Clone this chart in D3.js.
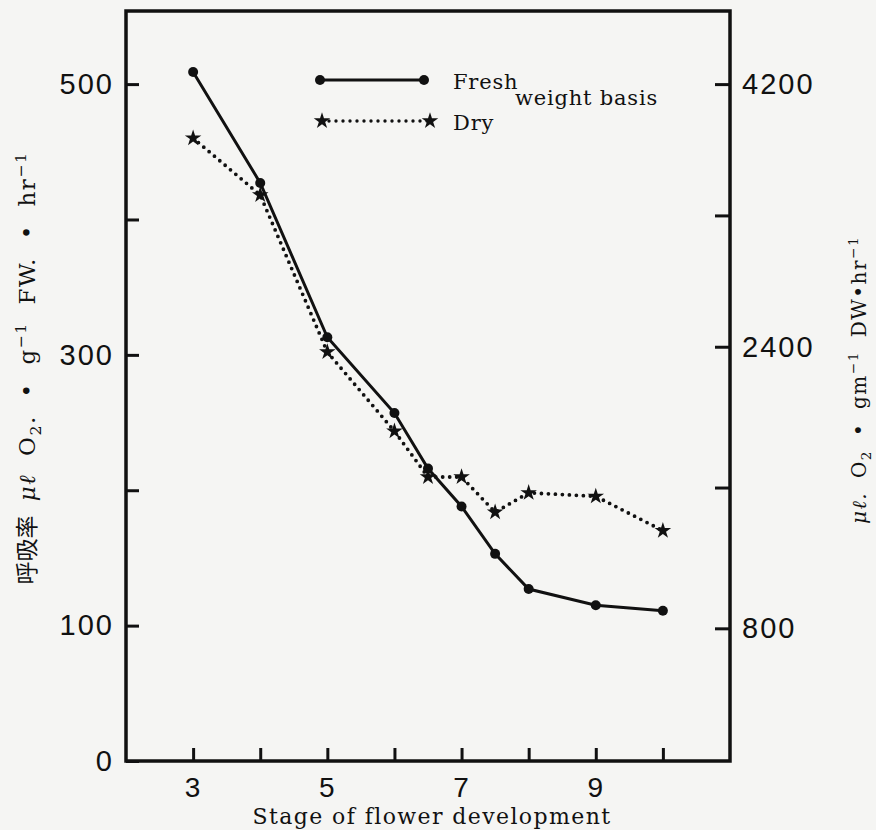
<!DOCTYPE html>
<html>
<head>
<meta charset="utf-8">
<script src="https://cdn.jsdelivr.net/npm/d3@7"></script>
<style>
  body { margin: 0; background: #f5f5f3; }
  svg { display: block; }
</style>
</head>
<body>
<div id="chart"></div>
<script>
// values
var stages    = [3, 4, 5, 6, 6.5, 7, 7.5, 8, 9, 10];
var freshRate = [509, 427, 313, 257, 216, 188, 153, 127, 115, 111];               // left axis, FW basis
var dryRate   = [3830, 3440, 2370, 1920, 1660, 1660, 1460, 1570, 1550, 1355];     // right axis, DW basis

var xTicks = [3, 4, 5, 6, 7, 8, 9, 10];
var xTickLabels = [3, 5, 7, 9];
var leftTicks = [0, 100, 200, 300, 400, 500];
var leftTickLabels = [0, 100, 300, 500];
var rightTicks = [800, 1600, 2400, 3300, 4200];
var rightTickLabels = [800, 2400, 4200];

var W = 876, H = 830;
var frame = {left: 126, right: 730, top: 11, bottom: 761};

var tickFont = "'Liberation Sans', Arial, sans-serif";
var serif = "'DejaVu Serif', serif";

var svg = d3.select("#chart")
  .append("svg")
    .attr("width", W)
    .attr("height", H);

svg.append("rect")
  .attr("width", W).attr("height", H)
  .attr("fill", "#f5f5f3");

// ---------------------------//
//       SCALES               //
// ---------------------------//
var x = d3.scaleLinear()
  .domain([2, 11])
  .range([frame.left, frame.right]);

var y = d3.scaleLinear()
  .domain([0, 554])
  .range([frame.bottom, frame.top]);

// right axis of the original is not evenly spaced, so map its labelled ticks piecewise
var yR = d3.scaleLinear()
  .domain([800, 2400, 4200])
  .range([y(98), y(306), y(500)]);

// ---------------------------//
//       AXES                 //
// ---------------------------//
function styleAxis(g, size) {
  g.select(".domain").remove();
  g.selectAll(".tick line").attr("stroke", "#111").attr("stroke-width", 3);
  g.selectAll(".tick text")
    .attr("fill", "#111")
    .attr("font-family", tickFont)
    .attr("font-size", size)
    .attr("letter-spacing", "2px");
}

svg.append("g")
  .attr("transform", "translate(" + frame.left + ",0)")
  .call(d3.axisLeft(y).tickValues(leftTicks).tickSize(-13).tickPadding(12)
    .tickFormat(function(d){ return leftTickLabels.indexOf(d) >= 0 ? d : ""; }))
  .call(styleAxis, 29);

svg.append("g")
  .attr("transform", "translate(" + frame.right + ",0)")
  .call(d3.axisRight(yR).tickValues(rightTicks).tickSize(-15).tickPadding(12)
    .tickFormat(function(d){ return rightTickLabels.indexOf(d) >= 0 ? d : ""; }))
  .call(styleAxis, 29);

svg.append("g")
  .attr("transform", "translate(0," + frame.bottom + ")")
  .call(d3.axisBottom(x).tickValues(xTicks).tickSize(-13).tickPadding(16)
    .tickFormat(function(d){ return xTickLabels.indexOf(d) >= 0 ? d : ""; }))
  .call(styleAxis, 28);

// frame
svg.append("rect")
  .attr("x", frame.left).attr("y", frame.top)
  .attr("width", frame.right - frame.left)
  .attr("height", frame.bottom - frame.top)
  .attr("fill", "none")
  .attr("stroke", "#111")
  .attr("stroke-width", 3.5);

// ---------------------------//
//       LINES                //
// ---------------------------//
var fresh = stages.map(function(s, i){ return {x: s, y: freshRate[i]}; });
var dry = stages.map(function(s, i){ return {x: s, y: dryRate[i]}; });

var freshLine = d3.line()
  .x(function(d){ return x(d.x); })
  .y(function(d){ return y(d.y); });

var dryLine = d3.line()
  .x(function(d){ return x(d.x); })
  .y(function(d){ return yR(d.y); });

svg.append("path")
  .datum(dry)
  .attr("d", dryLine)
  .attr("fill", "none")
  .attr("stroke", "#111")
  .attr("stroke-width", 3.8)
  .attr("stroke-linecap", "round")
  .attr("stroke-dasharray", "0,7");

svg.append("path")
  .datum(fresh)
  .attr("d", freshLine)
  .attr("fill", "none")
  .attr("stroke", "#111")
  .attr("stroke-width", 3);

var star = d3.symbol().type(d3.symbolStar).size(85);

svg.selectAll(".star")
  .data(dry)
  .enter()
  .append("path")
    .attr("class", "star")
    .attr("d", star)
    .attr("transform", function(d){ return "translate(" + x(d.x) + "," + yR(d.y) + ")"; })
    .attr("fill", "#111");

svg.selectAll(".dot")
  .data(fresh)
  .enter()
  .append("circle")
    .attr("class", "dot")
    .attr("cx", function(d){ return x(d.x); })
    .attr("cy", function(d){ return y(d.y); })
    .attr("r", 5)
    .attr("fill", "#111");

// ---------------------------//
//       LEGEND               //
// ---------------------------//
var lg = svg.append("g");

lg.append("line")
  .attr("x1", 320).attr("x2", 424).attr("y1", 80).attr("y2", 80)
  .attr("stroke", "#111").attr("stroke-width", 3);
lg.selectAll(".lgdot").data([320, 424]).enter()
  .append("circle")
    .attr("cx", function(d){ return d; }).attr("cy", 80).attr("r", 5)
    .attr("fill", "#111");

lg.append("line")
  .attr("x1", 322).attr("x2", 430).attr("y1", 121).attr("y2", 121)
  .attr("stroke", "#111").attr("stroke-width", 3.4)
  .attr("stroke-linecap", "round").attr("stroke-dasharray", "0,7");
lg.selectAll(".lgstar").data([322, 430]).enter()
  .append("path")
    .attr("d", star)
    .attr("transform", function(d){ return "translate(" + d + ",121)"; })
    .attr("fill", "#111");

lg.append("text").attr("x", 453).attr("y", 89).text("Fresh");
lg.append("text").attr("x", 453).attr("y", 130).text("Dry");
lg.append("text").attr("x", 515).attr("y", 105).text("weight basis");
lg.selectAll("text")
  .attr("font-family", serif)
  .attr("font-size", 21)
  .attr("letter-spacing", "0.8px")
  .attr("fill", "#111");

// ---------------------------//
//       AXIS TITLES          //
// ---------------------------//
svg.append("text")
  .attr("x", (frame.left + frame.right) / 2 + 4)
  .attr("y", 824)
  .attr("text-anchor", "middle")
  .attr("font-family", serif)
  .attr("font-size", 22)
  .attr("letter-spacing", "1.4px")
  .attr("fill", "#111")
  .text("Stage of flower development");

// rich text helper: parts are [text, kind]
function richTitle(g, parts, size, spacing, wordSpacing) {
  var t = g.append("text")
    .attr("text-anchor", "middle")
    .attr("font-family", serif)
    .attr("font-size", size)
    .attr("letter-spacing", spacing + "px")
    .attr("word-spacing", wordSpacing + "px")
    .attr("fill", "#111");
  var shift = 0;
  parts.forEach(function(p) {
    var want = p[1] === "sup" ? -0.4 * size : p[1] === "sub" ? 0.25 * size : 0;
    var ts = t.append("tspan").text(p[0]).attr("dy", want - shift);
    shift = want;
    if (p[1] === "sup" || p[1] === "sub") ts.attr("font-size", size * 0.68);
    if (p[1] === "it") ts.attr("font-style", "italic");
    if (p[1] === "cjk") ts.attr("font-family", "'Noto Sans CJK JP', sans-serif").attr("letter-spacing", "0px");
  });
  return t;
}

var leftTitle = svg.append("g").attr("transform", "translate(35,368) rotate(-90)");
richTitle(leftTitle, [
  ["呼吸率 ", "cjk"], ["μℓ", "it"], [" O", ""], ["2", "sub"], [". • g", ""],
  ["−1", "sup"], [" FW. • hr", ""], ["−1", "sup"]
], 23, 1.5, 9);

var rightTitle = svg.append("g").attr("transform", "translate(866,380) rotate(-90)");
richTitle(rightTitle, [
  ["μℓ.", "it"], [" O", ""], ["2", "sub"], [" • gm", ""], ["−1", "sup"],
  [" DW•hr", ""], ["−1", "sup"]
], 20, 1.5, 6);
</script>
</body>
</html>
